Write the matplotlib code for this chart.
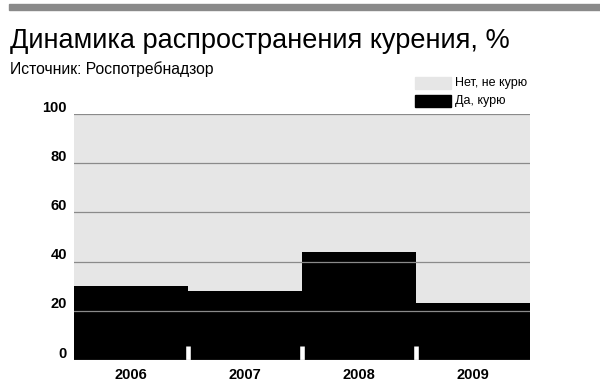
import matplotlib
matplotlib.use('Agg')
import matplotlib.pyplot as plt
import matplotlib.transforms as mtransforms
from matplotlib.patches import Rectangle
from matplotlib.ticker import FixedLocator

# данные
years = ['2006', '2007', '2008', '2009']
smoke = [30, 28, 44, 23]          # Да, курю
no_smoke = [100 - v for v in smoke]  # Нет, не курю
yticks = [0, 20, 40, 60, 80, 100]

plain = ['Liberation Sans', 'DejaVu Sans']

fig = plt.figure(figsize=(6, 3.88), dpi=100)
ax = fig.add_axes([74 / 600, 1 - 360 / 388, 456 / 600, 246 / 388])

x = list(range(len(years)))
ax.bar(x, smoke, width=1.0, color='black', linewidth=0, label='Да, курю')
ax.bar(x, no_smoke, bottom=smoke, width=1.0, color='#e6e6e6', linewidth=0,
       label='Нет, не курю')

ax.set_xlim(-0.5, len(years) - 0.5)
ax.set_ylim(0, 100)
for s in ax.spines.values():
    s.set_visible(False)

# сетка поверх столбцов
ax.set_yticks(yticks)
ax.yaxis.grid(True, color='#8a8a8a', linewidth=0.9)
ax.set_axisbelow('line')

ax.set_yticklabels([str(t) for t in yticks], fontsize=10.5, fontweight='bold',
                   family=plain)
ax.tick_params(axis='y', length=0, pad=5)
off = mtransforms.ScaledTranslation(0, 8 / 100, fig.dpi_scale_trans)
for lab in ax.get_yticklabels():
    lab.set_transform(lab.get_transform() + off)

ax.set_xticks(x)
ax.set_xticklabels(years, fontsize=10.5, fontweight='bold', family=plain)
ax.tick_params(axis='x', which='major', length=0, pad=6)

# белые засечки между столбцами
ax.xaxis.set_minor_locator(FixedLocator([i + 0.5 for i in x[:-1]]))
ax.tick_params(axis='x', which='minor', direction='in', length=10,
               width=3.3, color='white')

# верхняя полоса
fig.patches.append(Rectangle((9 / 600, 1 - 10 / 388), 1, 6 / 388,
                             transform=fig.transFigure, color='#8a8a8a',
                             zorder=0))

fig.text(10 / 600, 1 - 48 / 388, 'Динамика распространения курения, %',
         fontsize=19.5, family=plain, va='baseline', ha='left')
fig.text(10 / 600, 1 - 74 / 388, 'Источник: Роспотребнадзор',
         fontsize=11.3, family=plain, va='baseline', ha='left')

# легенда
leg_items = [('#e6e6e6', 'Нет, не курю', 83), ('black', 'Да, курю', 101)]
for col, txt, yc in leg_items:
    fig.patches.append(Rectangle((415 / 600, 1 - (yc + 6) / 388), 36 / 600,
                                 12 / 388, transform=fig.transFigure,
                                 color=col))
    fig.text(455 / 600, 1 - yc / 388, txt, fontsize=9, family=plain,
             va='center', ha='left')

fig.savefig('out.png', dpi=100)
